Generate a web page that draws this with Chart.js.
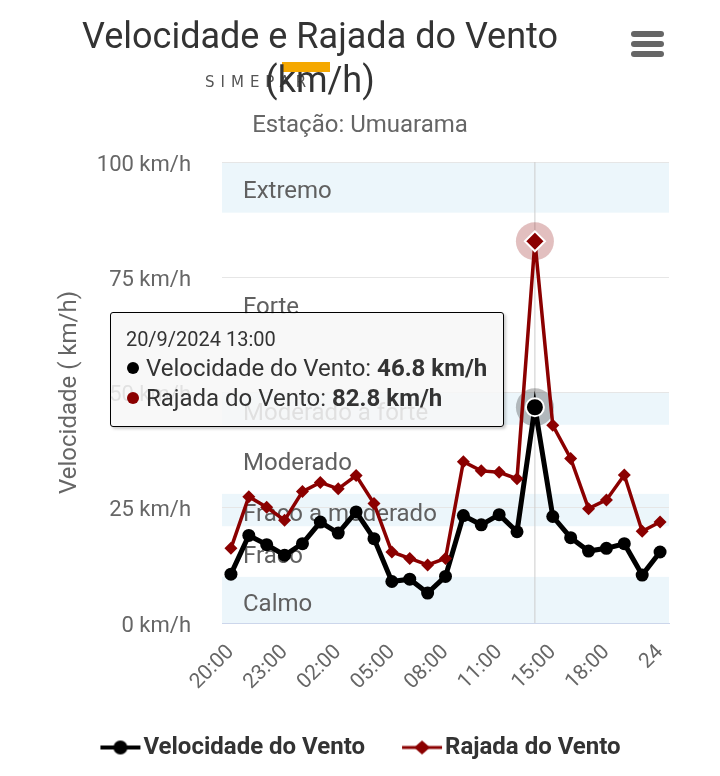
<!DOCTYPE html>
<html>
<head>
<meta charset="utf-8">
<script src="https://cdn.jsdelivr.net/npm/chart.js@4.4.1/dist/chart.umd.min.js"></script>
<style>
  html, body { margin: 0; padding: 0; background: #fff; }
  #wrap { position: relative; width: 720px; height: 776px; overflow: hidden; font-family: Roboto, sans-serif; }
  #grafico { position: absolute; left: 0; top: 0; }
  #logo { position: absolute; left: 0; top: 0; }
  #logo .barra { position: absolute; left: 282px; top: 62px; width: 48px; height: 10px; background: #f5a800; }
  #logo .marca { position: absolute; left: 205px; top: 73px; font: 15px 'DejaVu Sans', sans-serif; letter-spacing: 6px; color: #555; }
  .titulo { position: absolute; left: 0; top: 14px; width: 640px; text-align: center; color: #333; font-size: 36px; line-height: 44px; }
  .subtitulo { position: absolute; left: 0; top: 110px; width: 720px; text-align: center; color: #666; font-size: 24px; line-height: 28px; }
  #menu { position: absolute; left: 631px; top: 31px; width: 33px; }
  #menu span { display: block; height: 6px; border-radius: 3px; background: #666; margin-bottom: 4px; }
  #dica { position: absolute; box-sizing: border-box; width: 394px; padding: 13.5px 0 13px 15px; white-space: nowrap;
          background: rgba(247,247,247,0.85); border: 1.5px solid #000; border-radius: 3px;
          box-shadow: 2px 2px 3px rgba(0,0,0,0.2); color: #333; transform: translateX(-100%); opacity: 0; }
  #dica .cab { font-size: 20px; line-height: 26.5px; }
  #dica .lin { font-size: 24px; line-height: 30px; }
  #dica .bola { display: inline-block; width: 12px; height: 12px; border-radius: 50%; margin: 0 7px 2px 1px; }
</style>
</head>
<body>
<div id="wrap">
  <canvas id="grafico" width="720" height="776"></canvas>
  <div id="logo"><span class="barra"></span><span class="marca">SIMEPAR</span></div>
  <div class="titulo">Velocidade e Rajada do Vento<br>(km/h)</div>
  <div class="subtitulo">Estação: Umuarama</div>
  <div id="menu"><span></span><span></span><span></span></div>
  <div id="dica"></div>
</div>
<script>
// horário de cada leitura (eixo x)
const horas = ['20:00','21:00','22:00','23:00','00:00','01:00','02:00','03:00','04:00','05:00',
               '06:00','07:00','08:00','09:00','10:00','11:00','12:00','13:00','15:00','16:00',
               '17:00','18:00','19:00','20:00','24'];
const velocidade = [10.6, 19.0, 17.0, 14.7, 17.2, 21.9, 19.5, 24.1, 18.3, 9.0,
                    9.5, 6.5, 10.1, 23.3, 21.3, 23.5, 19.8, 46.8, 23.1, 18.5,
                    15.6, 16.2, 17.2, 10.4, 15.4];
const rajada = [16.2, 27.4, 25.1, 22.3, 28.5, 30.5, 29.1, 32.0, 25.9, 15.4,
                14.0, 12.6, 14.0, 35.0, 33.0, 32.7, 31.3, 82.8, 42.9, 35.7,
                24.8, 26.7, 32.1, 19.9, 21.9];
// faixas de intensidade do vento (km/h)
const faixas = [
  { de: 0,  ate: 10,  nome: 'Calmo',            cor: 'rgba(68,170,213,0.1)' },
  { de: 10, ate: 21,  nome: 'Fraco',            cor: 'rgba(0,0,0,0)' },
  { de: 21, ate: 28,  nome: 'Fraco a moderado', cor: 'rgba(68,170,213,0.1)' },
  { de: 28, ate: 43,  nome: 'Moderado',         cor: 'rgba(0,0,0,0)' },
  { de: 43, ate: 50,  nome: 'Moderado a forte', cor: 'rgba(68,170,213,0.1)' },
  { de: 50, ate: 89,  nome: 'Forte',            cor: 'rgba(0,0,0,0)' },
  { de: 89, ate: 100, nome: 'Extremo',          cor: 'rgba(68,170,213,0.1)' },
];
const INDICE_ATIVO = 17;
const INDICE_MEIA_NOITE = 4;

const VERMELHO = '#8B0000';
Chart.defaults.font.family = 'Roboto';

function dataHora(i) {
  return (i < INDICE_MEIA_NOITE ? '19/9/2024 ' : '20/9/2024 ') + horas[i];
}

// ── faixas coloridas, atrás da grade ──
const pluginFaixas = {
  id: 'faixas',
  beforeDraw(chart) {
    const { ctx, chartArea: a, scales: { y } } = chart;
    ctx.save();
    faixas.forEach(f => {
      const y1 = y.getPixelForValue(f.ate), y0 = y.getPixelForValue(f.de);
      ctx.fillStyle = f.cor;
      ctx.fillRect(a.left, y1, a.right - a.left, y0 - y1);
    });
    ctx.restore();
  },
  beforeDatasetsDraw(chart) {
    const { ctx, chartArea: a, scales: { x, y } } = chart;
    ctx.save();
    // rótulos das faixas
    ctx.font = '24px Roboto';
    ctx.fillStyle = '#606060';
    ctx.textBaseline = 'middle';
    faixas.forEach(f => {
      const meio = (y.getPixelForValue(f.de) + y.getPixelForValue(f.ate)) / 2;
      ctx.fillText(f.nome, a.left + 21, meio + 5);
    });
    // linha vertical do ponto ativo
    const ativos = chart.getActiveElements();
    if (ativos.length) {
      const px = x.getPixelForValue(ativos[0].index);
      ctx.strokeStyle = '#ccc';
      ctx.lineWidth = 1;
      ctx.beginPath();
      ctx.moveTo(px, a.top);
      ctx.lineTo(px, a.bottom);
      ctx.stroke();
      // halo em volta dos pontos ativos
      ativos.forEach(el => {
        ctx.fillStyle = el.datasetIndex === 0 ? 'rgba(0,0,0,0.25)' : 'rgba(139,0,0,0.25)';
        ctx.beginPath();
        ctx.arc(el.element.x, el.element.y, 19, 0, Math.PI * 2);
        ctx.fill();
      });
    }
    ctx.restore();
  }
};

// símbolo da legenda: linha com marcador, deslocado para a direita dentro da imagem
function simbolo(cor, larguraLinha, forma) {
  const c = document.createElement('canvas');
  c.width = 58; c.height = 20;
  const g = c.getContext('2d');
  const o = 17;
  g.strokeStyle = cor; g.fillStyle = cor; g.lineWidth = larguraLinha;
  g.beginPath(); g.moveTo(o, 10); g.lineTo(o + 40, 10); g.stroke();
  g.beginPath();
  if (forma === 'circulo') g.arc(o + 20, 10, 7, 0, Math.PI * 2);
  else { g.moveTo(o + 12, 10); g.lineTo(o + 20, 3); g.lineTo(o + 28, 10); g.lineTo(o + 20, 17); g.closePath(); }
  g.fill();
  return c;
}
const simbolos = [simbolo('#000', 4, 'circulo'), simbolo(VERMELHO, 3, 'losango')];

function tooltipExterno({ tooltip }) {
  const el = document.getElementById('dica');
  if (tooltip.opacity === 0) { el.style.opacity = 0; return; }
  const i = tooltip.dataPoints[0].dataIndex;
  let html = '<div class="cab">' + dataHora(i) + '</div>';
  tooltip.dataPoints.forEach(p => {
    html += '<div class="lin"><span class="bola" style="background:' + p.dataset.borderColor + '"></span>' +
            p.dataset.label + ': <b>' + p.raw.toFixed(1) + ' km/h</b></div>';
  });
  el.innerHTML = html;
  el.style.opacity = 1;
  el.style.left = (tooltip.caretX - 31) + 'px';
  el.style.top = (tooltip.caretY - 12.5) + 'px';
}

const grafico = new Chart(document.getElementById('grafico'), {
  type: 'line',
  data: {
    labels: horas,
    datasets: [
      {
        label: 'Velocidade do Vento', data: velocidade, order: 1,
        borderColor: '#000', backgroundColor: '#000', borderWidth: 5,
        pointStyle: 'circle', pointRadius: 6.5, pointBorderWidth: 0,
        pointHoverRadius: 9, pointHoverBorderWidth: 2, pointHoverBorderColor: '#fff', pointHoverBackgroundColor: '#000',
      },
      {
        label: 'Rajada do Vento', data: rajada, order: 0,
        borderColor: VERMELHO, backgroundColor: VERMELHO, borderWidth: 3.5,
        pointStyle: 'rectRot', pointRadius: 6.5, pointBorderWidth: 0,
        pointHoverRadius: 10, pointHoverBorderWidth: 2, pointHoverBorderColor: '#fff', pointHoverBackgroundColor: VERMELHO,
      },
    ],
  },
  options: {
    responsive: false, animation: false, events: [],
    interaction: { mode: 'index', intersect: false },
    layout: { padding: { top: 162, bottom: 6.5, left: 0, right: 6 } },
    scales: {
      x: {
        offset: true,
        grid: { display: false, drawTicks: false },
        border: { display: true, color: '#ccd6eb', width: 1 },
        ticks: {
          autoSkip: false, minRotation: 45, maxRotation: 45, padding: 17, labelOffset: 0,
          color: '#666', font: { size: 21 },
          callback: (v, i) => (i % 3 === 0 ? horas[i] : ''),
        },
        afterFit: s => { s.height = 82.5; },
      },
      y: {
        min: 0, max: 100,
        grid: { color: c => (c.tick.value === 0 ? 'rgba(0,0,0,0)' : '#e6e6e6'), drawTicks: false },
        border: { display: false },
        ticks: { stepSize: 25, padding: 31, labelOffset: 3, color: '#666', font: { size: 22 }, callback: v => v + ' km/h' },
        title: { display: true, text: 'Velocidade ( km/h)', color: '#666', font: { size: 24 }, padding: { top: 56, bottom: 0 } },
        afterFit: s => { s.width = 222; },
      },
      direita: {
        type: 'linear', position: 'right',
        grid: { display: false, drawTicks: false }, border: { display: false }, ticks: { display: false },
        afterFit: s => { s.width = 45; },
      },
    },
    plugins: {
      legend: {
        position: 'bottom',
        labels: {
          usePointStyle: true, pointStyleWidth: 38, padding: 30,
          color: '#333', font: { size: 24, weight: 'bold' },
          sort: (a, b) => a.datasetIndex - b.datasetIndex,
          generateLabels: chart => Chart.defaults.plugins.legend.labels.generateLabels(chart)
            .map(l => Object.assign(l, { pointStyle: simbolos[l.datasetIndex] })),
        },
      },
      tooltip: { enabled: false, external: tooltipExterno },
    },
  },
  plugins: [pluginFaixas],
});

const ativos = [{ datasetIndex: 0, index: INDICE_ATIVO }, { datasetIndex: 1, index: INDICE_ATIVO }];
grafico.setActiveElements(ativos);
grafico.tooltip.setActiveElements(ativos, { x: 0, y: 0 });
grafico.update();
</script>
</body>
</html>
